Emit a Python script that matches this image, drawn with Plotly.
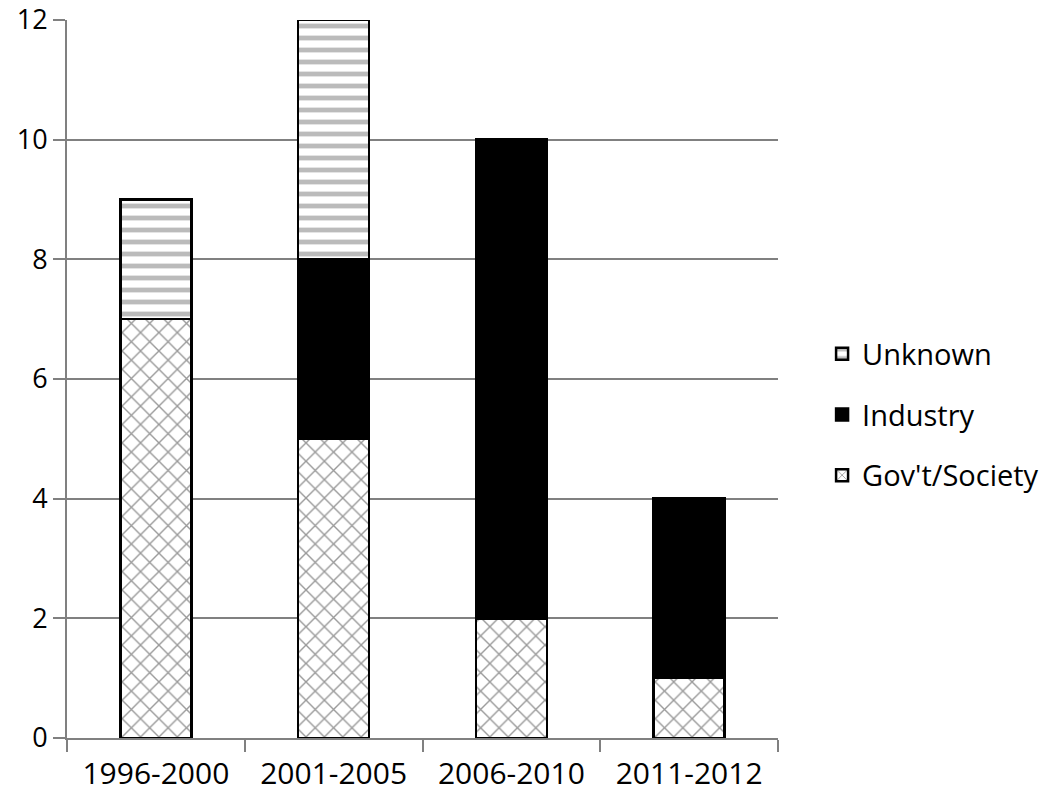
import plotly.graph_objects as go

categories = ["1996-2000", "2001-2005", "2006-2010", "2011-2012"]
gov_society = [7, 5, 2, 1]
industry = [0, 3, 8, 3]
unknown = [2, 4, 0, 0]
y_ticks = [0, 2, 4, 6, 8, 10, 12]

FONT = "Open Sans"
fig = go.Figure()
fig.add_trace(go.Bar(
    x=categories, y=gov_society, name="Gov't/Society", legendgroup="g", legendrank=3,
    marker=dict(color="white", line=dict(color="black", width=2.5),
                pattern=dict(shape="x", fgcolor="#333333", bgcolor="white", size=13, solidity=0.2)),
))
fig.add_trace(go.Bar(
    x=categories, y=industry, name="Industry", legendgroup="i", legendrank=2,
    marker=dict(color="black", line=dict(color="black", width=2.5)),
))
fig.add_trace(go.Bar(
    x=categories, y=unknown, name="Unknown", legendgroup="u", legendrank=1,
    marker=dict(color="white", line=dict(color="black", width=2.5),
                pattern=dict(shape="-", fgcolor="#777777", bgcolor="white", size=12, solidity=0.4)),
))

fig.update_layout(
    barmode="stack",
    bargap=0.6,
    width=1050, height=802,
    margin=dict(l=59, r=280, t=12, b=72, autoexpand=False),
    paper_bgcolor="white", plot_bgcolor="white",
    font=dict(family=FONT, size=28, color="black"),
    legend=dict(x=1.062, y=0.45, xanchor="left", yanchor="middle",
                traceorder="grouped", font=dict(size=29), itemwidth=30,
                tracegroupgap=20),
    xaxis=dict(showgrid=False, showline=True, linecolor="#808080", linewidth=2,
               ticks="outside", tickson="boundaries", ticklen=12, tickwidth=2,
               tickcolor="#808080", tickfont=dict(size=30), automargin=False,
               ticklabelstandoff=8),
    yaxis=dict(range=[0, 12], tickvals=y_ticks, showgrid=True, gridcolor="#808080",
               gridwidth=2, showline=True, linecolor="#808080", linewidth=2,
               ticks="outside", ticklen=12, tickwidth=2, tickcolor="#808080",
               zeroline=False, tickfont=dict(size=27), automargin=False,
               ticklabeloverflow="allow"),
)

fig.write_html("out.html")
